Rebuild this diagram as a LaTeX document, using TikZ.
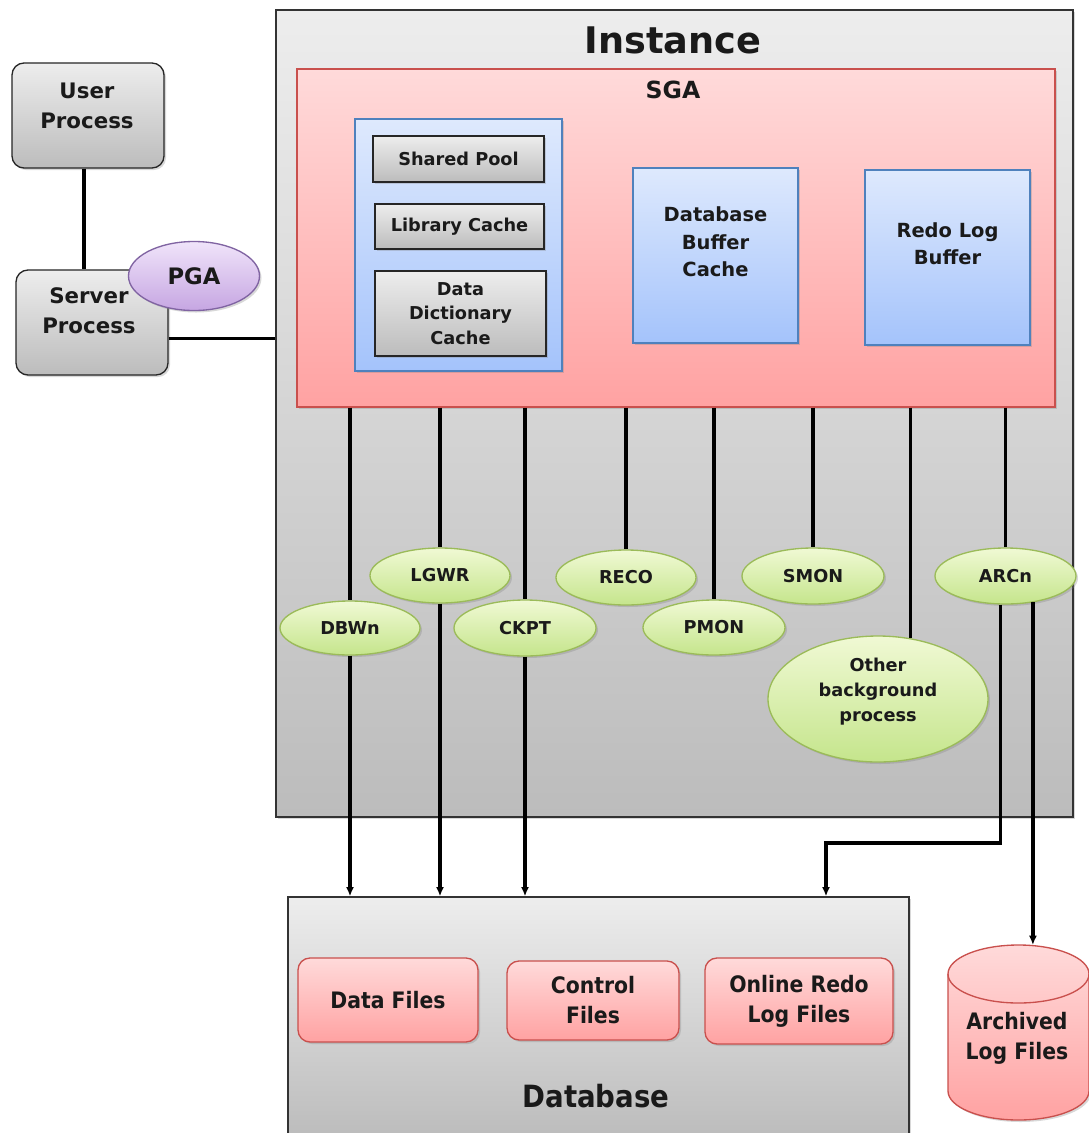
\documentclass[tikz,border=0pt]{standalone}
\usepackage{fontspec}
\setmainfont{DejaVu Sans}
\newfontfamily\condfont{DejaVu Sans Condensed}
\usetikzlibrary{shapes.geometric,arrows.meta,shadows}
\definecolor{txt}{HTML}{1A1A1A}
\definecolor{grayT}{HTML}{EDEDED}
\definecolor{grayB}{HTML}{BCBCBC}
\definecolor{pinkT}{HTML}{FFDADA}
\definecolor{pinkB}{HTML}{FFA2A2}
\definecolor{pinkD}{HTML}{C9504D}
\definecolor{blueT}{HTML}{DEE9FD}
\definecolor{blueB}{HTML}{A4C3FB}
\definecolor{blueD}{HTML}{4F81BD}
\definecolor{greenT}{HTML}{F0F9D4}
\definecolor{greenB}{HTML}{C5E58C}
\definecolor{greenD}{HTML}{9BBB59}
\definecolor{purT}{HTML}{F0E4FA}
\definecolor{purB}{HTML}{C6A6E2}
\definecolor{purD}{HTML}{8064A2}
\tikzset{
  px/.style 2 args={minimum width=#1*0.75pt, minimum height=#2*0.75pt},
  base/.style={inner sep=0pt, text=txt, align=center},
  shad/.style={drop shadow={opacity=0.3, shadow xshift=1.5pt, shadow yshift=-1.5pt}},
  graybox/.style={base, rectangle, draw=black!80, line width=1pt, top color=grayT, bottom color=grayB, shad},
  pinkbox/.style={base, rectangle, draw=pinkD, line width=1pt, top color=pinkT, bottom color=pinkB, shad},
  bluebox/.style={base, rectangle, draw=blueD, line width=1pt, top color=blueT, bottom color=blueB, shad},
  cellbox/.style={base, rectangle, draw=black!85, line width=1pt, top color=grayT, bottom color=grayB, shad,
     font=\bfseries\fontsize{13.3}{18.5}\selectfont},
  procbox/.style={base, rectangle, rounded corners=9pt, draw=black!85, line width=1pt, top color=grayT, bottom color=grayB, shad},
  proct/.style={base, font=\bfseries\fontsize{16}{22.5}\selectfont},
  filebox/.style={base, rectangle, rounded corners=9pt, draw=pinkD, line width=1pt, top color=pinkT, bottom color=pinkB, shad,
     font=\condfont\bfseries\fontsize{17}{22.5}\selectfont},
  bgproc/.style={base, ellipse, draw=greenD, line width=1pt, top color=greenT, bottom color=greenB, shad,
     font=\bfseries\fontsize{13.3}{18.5}\selectfont},
  lbl/.style={base, font=\bfseries\fontsize{14.6}{20.5}\selectfont},
  conn/.style={line width=2.6pt, draw=black},
  arr/.style={conn, -{Latex[length=7pt,width=6pt]}},
}
\begin{document}
\begin{tikzpicture}[x=0.75pt,y=-0.75pt]
\useasboundingbox (0,0) rectangle (1089,1133);
\fill[white] (0,0) rectangle (1089,1133);

% Instance
\node[graybox, px={797}{807}] (inst) at (674.5,413.5) {};
\node[base, font=\bfseries\fontsize{27.5}{30}\selectfont] (insttitle) at (673,40) {Instance};

% SGA
\node[pinkbox, px={758}{338}] (sga) at (676,238) {};
\node[base, font=\bfseries\fontsize{17.7}{20}\selectfont] (sgatitle) at (673,90) {SGA};

\node[bluebox, px={207}{252}] (sp) at (458.5,245) {};
\node[cellbox, px={171}{46}] (pool) at (458.5,159) {Shared Pool};
\node[cellbox, px={169}{45}] (lib) at (459.5,226.5) {Library Cache};
\node[cellbox, px={171}{85}] (ddc) at (460.5,313.5) {Data\\Dictionary\\Cache};

\node[bluebox, px={165}{175}] (dbc) at (715.5,255.5) {};
\node[lbl] (dbct) at (715.5,242) {Database\\Buffer\\Cache};
\node[bluebox, px={165}{175}] (rlb) at (947.5,257.5) {};
\node[lbl] (rlbt) at (947.5,244) {Redo Log\\Buffer};

% client side
\node[procbox, px={152}{105}] (user) at (88,115.5) {};
\node[proct] (usert) at (87,106) {User\\Process};
\node[procbox, px={152}{105}] (server) at (92,322.5) {};
\node[proct] (servert) at (89,311) {Server\\Process};
\draw[conn] ([xshift=-3pt]user.south) -- ([xshift=-3pt]user.south |- server.north);
\draw[conn] ([yshift=-12pt]server.east) -- ([yshift=-12pt]server.east -| inst.west);
\node[base, ellipse, draw=purD, line width=1pt, top color=purT, bottom color=purB, shad,
      px={131}{69}, font=\bfseries\fontsize{17}{20}\selectfont] (pga) at (194,276) {PGA};

% background processes
\node[bgproc, px={140}{54}] (dbwn) at (350,628) {DBWn};
\node[bgproc, px={140}{55}] (lgwr) at (440,575.5) {LGWR};
\node[bgproc, px={142}{56}] (ckpt) at (525,628) {CKPT};
\node[bgproc, px={140}{55}] (reco) at (626,577.5) {RECO};
\node[bgproc, px={142}{55}] (pmon) at (714,627.5) {PMON};
\node[bgproc, px={142}{56}] (smon) at (813,576) {SMON};
\node[bgproc, px={141}{56}] (arcn) at (1005.5,576) {ARCn};
\node[bgproc, px={220}{126}, text depth=14pt] (oth) at (878,699) {Other\\background\\process};

\draw[conn] (dbwn.north |- sga.south) -- (dbwn.north);
\draw[conn] (lgwr.north |- sga.south) -- (lgwr.north);
\draw[conn] (ckpt.north |- sga.south) -- (ckpt.north);
\draw[conn] (reco.north |- sga.south) -- (reco.north);
\draw[conn] (pmon.north |- sga.south) -- (pmon.north);
\draw[conn] (smon.north |- sga.south) -- (smon.north);
\draw[conn] (arcn.north |- sga.south) -- (arcn.north);
\draw[conn] (oth.62 |- sga.south) -- (oth.62);

% Database
\node[graybox, px={621}{240}] (db) at (598.5,1017) {};
\node[base, font=\condfont\bfseries\fontsize{23}{25}\selectfont] (dbtitle) at (596,1096) {Database};
\node[filebox, px={180}{84}] (df) at (388,1000) {Data Files};
\node[filebox, px={172}{79}] (cf) at (593,1000.5) {Control\\Files};
\node[filebox, px={188}{86}] (orl) at (799,1001) {Online Redo\\Log Files};

% Archived log files (cylinder)
\shade[top color=pinkT, bottom color=pinkB, draw=pinkD, line width=1pt, shad]
  (948,974) -- (948,1091) arc[start angle=180, end angle=0, x radius=70.5, y radius=29]
  -- (1089,974) arc[start angle=0, end angle=-180, x radius=70.5, y radius=29] -- cycle;
\draw[pinkD, line width=1pt] (948,974) arc[start angle=180, end angle=0, x radius=70.5, y radius=29];
\coordinate (archtop) at (1018.5,945);
\node[base, font=\condfont\bfseries\fontsize{17}{22.5}\selectfont] (arch) at (1017,1038) {Archived\\Log Files};

% writes
\draw[arr] (dbwn.south) -- (dbwn.south |- db.north);
\draw[arr] (lgwr.south) -- (lgwr.south |- db.north);
\draw[arr] (ckpt.south) -- (ckpt.south |- db.north);
\coordinate (bend) at (826,843);
\draw[arr] (arcn.-100) |- (bend) -- (bend |- db.north);
\draw[arr] (arcn.-44) -- (arcn.-44 |- archtop);
\end{tikzpicture}
\end{document}
